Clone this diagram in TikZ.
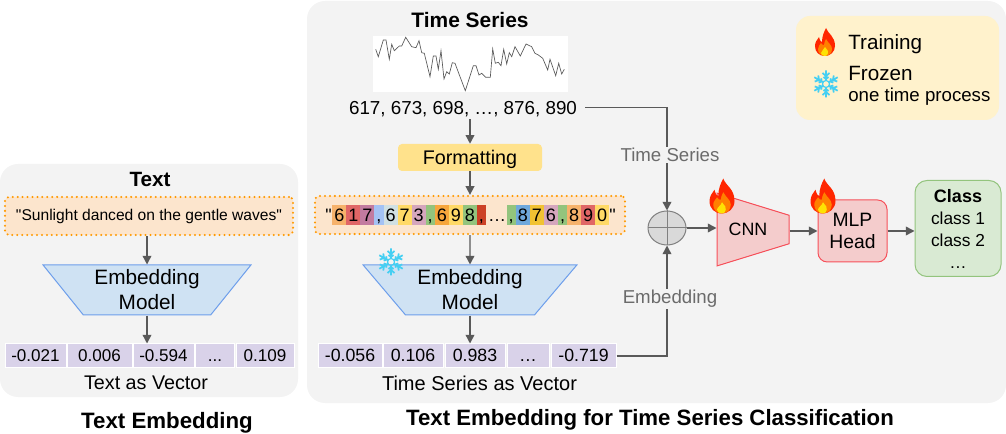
\documentclass[tikz,border=0pt]{standalone}
\usepackage{fontspec}
\setmainfont[Ligatures=TeXOff]{Liberation Sans}
\usetikzlibrary{positioning, arrows.meta, shapes.geometric}

\def\px{0.75pt}
\definecolor{panelgray}{HTML}{F3F3F3}
\definecolor{linegray}{HTML}{595959}
\definecolor{labelgray}{HTML}{6B6B6B}
\definecolor{promptfill}{HTML}{FCE5CD}
\definecolor{promptline}{HTML}{FF9900}
\definecolor{legendfill}{HTML}{FFF2CC}
\definecolor{modelfill}{HTML}{CFE2F3}
\definecolor{modelline}{HTML}{6D9EEB}
\definecolor{cellfill}{HTML}{D9D2E9}
\definecolor{trainfill}{HTML}{F4CCCC}
\definecolor{trainline}{HTML}{F6505A}
\definecolor{classfill}{HTML}{D9EAD3}
\definecolor{classline}{HTML}{93C47D}
\definecolor{flakeline}{HTML}{45CFF2}
\definecolor{tileA}{HTML}{F6B26B}
\definecolor{tileB}{HTML}{E06666}
\definecolor{tileC}{HTML}{C27BA0}
\definecolor{tileD}{HTML}{A4C2F4}
\definecolor{tileE}{HTML}{D0E0E3}
\definecolor{tileF}{HTML}{FFD966}
\definecolor{tileG}{HTML}{D5A6BD}
\definecolor{tileH}{HTML}{93C47D}
\definecolor{tileI}{HTML}{F6A63C}
\definecolor{tileJ}{HTML}{CC4125}
\definecolor{tileK}{HTML}{6FA8DC}
\definecolor{tileL}{HTML}{F1C232}

\tikzset{
  size/.style 2 args={minimum width=#1*\px, minimum height=#2*\px, inner sep=0pt},
  panel/.style={fill=panelgray, rounded corners=13.5pt},
  prompt/.style={fill=promptfill, draw=promptline, line width=1.7pt, line cap=round, dash pattern=on 0pt off 3.7pt, rounded corners=3pt},
  model/.style={trapezium, trapezoid stretch, shape border rotate=180, fill=modelfill, draw=modelline, line width=0.75pt, align=center, font=\fontsize{15.6}{18.75}\selectfont},
  trapezoid stretch/.style={trapezium stretches=true, inner sep=0pt},
  cell/.style={fill=cellfill, draw=white, line width=0.75pt, text height=9pt, text depth=0pt},
  flow/.style={draw=linegray, line width=1.1pt},
  arrow/.style={flow, -{Triangle[length=6.5pt, width=6.5pt]}},
  graylabel/.style={fill=panelgray, text=labelgray, inner sep=1pt, font=\fontsize{14}{16}\selectfont},
  pics/flame/.style={code={
    \fill[red!70!orange] (1,-14) .. controls (3,-8) and (10,-6) .. (10,4) .. controls (10,10) and (5,14) .. (0,14) .. controls (-6,14) and (-10,10) .. (-10,4) .. controls (-10,0) and (-8,-2) .. (-6,-5) .. controls (-5,-1) and (-4,0) .. (-3,0) .. controls (-3,-6) and (-1,-10) .. (1,-14) -- cycle;
    \fill[orange] (1,-3) .. controls (3,1) and (7,3) .. (7,7) .. controls (7,11) and (4,14) .. (0,14) .. controls (-4,14) and (-7,11) .. (-7,7) .. controls (-7,4) and (-5,3) .. (-4,1) .. controls (-3,3) and (-2,3) .. (-1,3) .. controls (-1,1) and (0,-1) .. (1,-3) -- cycle;
    \fill[yellow!85!orange] (0,5) .. controls (2,8) and (4,9) .. (3,11) .. controls (3,13) and (1,14) .. (0,14) .. controls (-2,14) and (-4,13) .. (-4,11) .. controls (-4,9) and (-1,8) .. (0,5) -- cycle;
  }},
  pics/flake/.style={code={
    \foreach \a in {0,60,...,300} {
      \draw[rotate=\a, flakeline, line width=1.3pt] (0,-3.5) -- (0,-13.5) (-3.5,-11) -- (0,-8) -- (3.5,-11) (-2.5,-7) -- (0,-5) -- (2.5,-7);
    }
    \draw[flakeline, line width=0.9pt] (0,0) circle (3.5);
  }}
}

\begin{document}
\begin{tikzpicture}[x=\px, y=-\px, font=\fontsize{12.8}{15}\selectfont]
  \useasboundingbox (0,0) rectangle (1006,434);

  % left panel
  \node[panel, size={298}{233}]                      (TP)   at (149, 280.5) {};
  \node[font=\bfseries\fontsize{15.5}{18}\selectfont] (TT)  at (150, 179) {Text};
  \node[prompt, size={288}{38}, font=\fontsize{11.7}{14}\selectfont] (TS) at (149, 216) {"Sunlight danced on the gentle waves"};
  \node[model, size={208}{50}, trapezium angle=50.4] (TM)   at (147, 290) {Embedding \\ Model};

  \node[cell, size={61}{24}]                         (TC1)  at ( 35.5, 356) {-0.021};
  \node[cell, size={65}{24}]                         (TC2)  at ( 99.5, 356) {0.006};
  \node[cell, size={61}{24}]                         (TC3)  at (163.5, 356) {-0.594};
  \node[cell, size={39}{24}]                         (TC4)  at (215,   356) {...};
  \node[cell, size={58}{24}]                         (TC5)  at (265,   356) {0.109};
  \node[font=\fontsize{14.8}{17}\selectfont]         (TV)   at (146, 383) {Text as Vector};
  \node[font=\bfseries\fontsize{16.7}{20}\selectfont] (TL)  at (167, 423) {Text Embedding};

  \draw[arrow] (TS.south -| TM.north) -- (TM.north);
  \draw[arrow] (TM.south) -- (TM.south |- TC3.north);

  % right panel
  \node[panel, size={699}{402}]                      (RP)   at (656.5, 202) {};
  \node[font=\bfseries\fontsize{15.7}{18}\selectfont] (RT)  at (470, 20) {Time Series};
  \node[fill=white, size={195}{56}]                  (RG)   at (470.5, 64) {};
  \draw[linegray, line width=0.5pt] plot coordinates {
    (375.7,49.3) (378.3,56.7) (383.3,40) (386,40) (389.3,59.3) (391.7,44.3) (394.3,50.7) (399.3,46) (401.7,46) (405.7,37.3)
    (411.7,46.7) (416,47.7) (419,40.7) (421.7,52.7) (424.3,53.3) (430,76.7) (433.3,56) (436,56) (438.3,69.3) (441,50.7)
    (444,79) (446.7,71.7) (449.3,74) (452.3,62.7) (455,63.3) (459,74) (465.3,90.7) (469.3,78.3) (473.3,65.7) (476,65.7)
    (479,75) (481.7,73.3) (485.7,77.3) (490.3,77.3) (492.7,49) (495.3,63.3) (498.3,62.3) (501,65.7) (503.7,49.3) (506.7,64)
    (509.3,52.7) (511.7,56.7) (515,46.7) (520.3,56) (526,44) (531.7,46.7) (535,53.3) (538.3,55) (542.7,58.3) (547.7,70)
    (550,59.3) (555.7,75.7) (558.7,63.3) (561.7,74) (564.3,69.3)};
  \node[font=\fontsize{14.1}{17}\selectfont, inner sep=0pt, text height=10pt, text depth=0pt] (RN) at (463, 107.5) {617, 673, 698, …, 876, 890};
  \node[fill=tileF!75!white, rounded corners=3pt, size={144}{27}, text height=10.6pt, text depth=0pt, font=\fontsize{14.8}{17}\selectfont] (RF) at (470, 157.5) {Formatting};
  \node[prompt, size={310}{38}]                      (RS)   at (470, 215) {};
  \foreach \tilex/\tilew/\tilec/\tiled in {332/14/tileA/6, 346/14/tileB/1, 360/14/tileC/7, 374/9.3/tileD/{,}, 383.3/14/tileE/6, 397.3/14/tileF/7, 411.3/14/tileG/3, 425.3/9.3/tileH/{,}, 434.6/14/tileI/6, 448.6/14/tileF/9, 462.6/14/tileH/8, 476.6/9/tileJ/{,}, 506.3/9.3/tileH/{,}, 515.6/14/tileK/8, 529.6/14/tileL/7, 543.6/14/tileG/6, 557.6/9.3/tileH/{,}, 566.9/14/tileA/8, 580.9/14/tileB/9, 594.9/14/tileF/0} {
    \node[fill=\tilec, size={\tilew}{20}, anchor=west, text height=9.5pt, text depth=0pt, font=\fontsize{13.5}{15}\selectfont] (tile\tilex) at (\tilex, 215.5) {\tiled};
  }
  \node[anchor=east, inner sep=0pt, text height=9.5pt, text depth=0pt, font=\fontsize{13.5}{15}\selectfont] (RQ1) at (332, 215.5) {"};
  \node[anchor=west, inner sep=0pt, text height=9.5pt, text depth=0pt, font=\fontsize{13.5}{15}\selectfont] (RQ2) at (609, 215.5) {"};
  \node[inner sep=0pt, text height=9.5pt, text depth=0pt, font=\fontsize{13.5}{15}\selectfont] (RD) at (497, 215.5) {…};
  \node[model, size={214}{50}, trapezium angle=49.3] (RM)   at (470, 290) {Embedding \\ Model};
  \pic at (391, 262) {flake};

  \node[cell, size={64}{24}, font=\fontsize{13.3}{15}\selectfont] (RC1) at (350,   356) {-0.056};
  \node[cell, size={60}{24}, font=\fontsize{13.3}{15}\selectfont] (RC2) at (413,   356) {0.106};
  \node[cell, size={60}{24}, font=\fontsize{13.3}{15}\selectfont] (RC3) at (475,   356) {0.983};
  \node[cell, size={42}{24}, font=\fontsize{13.3}{15}\selectfont] (RC4) at (528,   356) {…};
  \node[cell, size={65}{24}, font=\fontsize{13.3}{15}\selectfont] (RC5) at (583.5, 356) {-0.719};
  \node[font=\fontsize{15}{17}\selectfont]           (RV)   at (479.5, 383) {Time Series as Vector};
  \node[font=\bfseries\fontsize{16.65}{20}\selectfont] (RL) at (650, 420) {Text Embedding for Time Series Classification};

  \node[ellipse, draw=gray, fill=gray!30, line width=0.75pt, size={38}{34}] (ADD) at (667, 228) {};
  \draw[gray, line width=0.75pt] (ADD.north) -- (ADD.south) (ADD.west) -- (ADD.east);

  \node[trapezium, trapezoid stretch, shape border rotate=270, trapezium angle=78.6, fill=trainfill, draw=trainline, line width=0.75pt, size={73}{72}, font=\fontsize{13.4}{16}\selectfont] (CNN) at (753, 229.5) {CNN\kern7.5pt};
  \node[fill=trainfill, draw=trainline, line width=0.75pt, rounded corners=7pt, size={69}{62}, align=center, font=\fontsize{14.5}{16.5}\selectfont] (MLP) at (852.5, 231) {MLP \\ Head};
  \node[fill=classfill, draw=classline, line width=0.75pt, rounded corners=9pt, size={86}{96}, align=center, font=\fontsize{13}{16.5}\selectfont] (CL) at (958, 228.5) {{\fontsize{13.5}{16.5}\selectfont\textbf{Class}} \\ class 1 \\ class 2 \\ …};

  \pic[scale=1.25] at (722, 196) {flame};
  \pic[scale=1.25] at (823, 196) {flame};

  \node[fill=legendfill, rounded corners=10.5pt, size={203}{104}] (LG) at (897.5, 68) {};
  \pic at (825, 42) {flame};
  \pic at (826, 84) {flake};
  \node[anchor=west, inner sep=0pt, font=\fontsize{15.5}{18}\selectfont] (LT) at (848, 44)   {Training};
  \node[anchor=west, inner sep=0pt, font=\fontsize{15.5}{18}\selectfont] (LF) at (848, 73)   {Frozen};
  \node[anchor=west, inner sep=0pt, font=\fontsize{14}{16}\selectfont]   (LO) at (848, 97)   {one time process};

  \draw[arrow] (RF.north |- RN.south) ++ (0,5) -- (RF.north);
  \draw[arrow] (RF.south) -- (RS.north);
  \draw[arrow] (RS.south) -- (RM.north);
  \draw[arrow] (RM.south) -- (RM.south |- RC3.north);

  \draw[arrow] ([xshift=8*\px]RN.east) -| (ADD.north);
  \draw[arrow] (RC5.east) -| (ADD.south);
  \node[graylabel] (GT) at (670, 155) {Time Series};
  \node[graylabel] (GE) at (670, 299) {Embedding};

  \draw[arrow] (ADD.east) -- (CNN.west |- ADD.east);
  \draw[arrow] (CNN.east |- MLP.west) -- (MLP.west);
  \draw[arrow] (MLP.east) -- (CL.west |- MLP.east);
\end{tikzpicture}
\end{document}
